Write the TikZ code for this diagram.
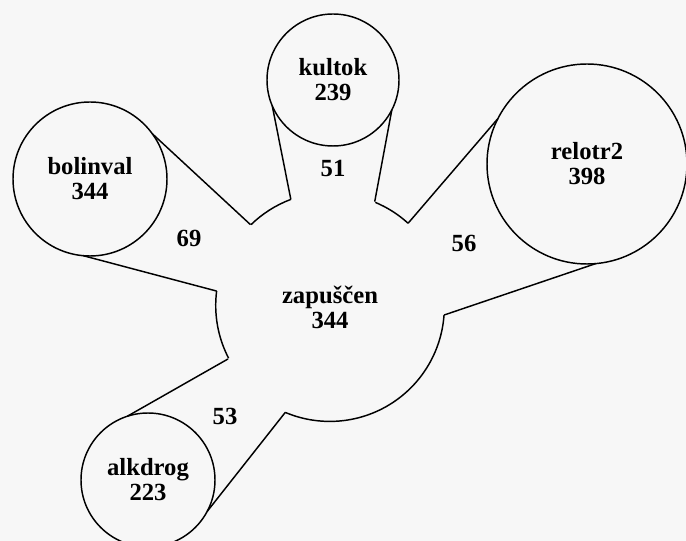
\documentclass[tikz,border=0pt]{standalone}
\usepackage{fontspec}
\setmainfont{Liberation Serif}
\tikzset{every picture/.style={line width=1.1pt}}
\tikzset{
  blob/.style={circle, draw, inner sep=0pt, outer sep=0pt, align=center,
    font=\fontsize{18.5}{18.8}\selectfont\bfseries},
  hub/.style={blob, draw=none},
  weight/.style={inner sep=0pt, font=\fontsize{18.5}{18.8}\selectfont\bfseries}
}

\begin{document}
\begin{tikzpicture}[x=0.75pt,y=0.75pt,yscale=-1,xscale=1]
%Background
\fill [color={rgb, 255:red, 247; green, 247; blue, 247 }] (0,0) rectangle (686,541);
\useasboundingbox (0,0) rectangle (686,541);

%Shape: Circles
\node [hub, minimum size=171.75pt] (zap) at (330,307) {zapuščen\\344};
\node [blob, minimum size=99pt] (kultok) at (333,80) {kultok\\239};
\node [blob, minimum size=115.5pt] (bolinval) at (90,179) {bolinval\\344};
\node [blob, minimum size=150pt] (relotr) at (587,164) {relotr2\\398};
\node [blob, minimum size=100.5pt] (alkdrog) at (148,480) {alkdrog\\223};

%Straight Lines: bridges
\draw (kultok.203.5) -- (zap.110.5) ;
\draw (kultok.333.6) -- (zap.67.2) ;
\draw (bolinval.36.8) -- (zap.134.3) ;
\draw (bolinval.265) -- (zap.172.8) ;
\draw (relotr.153.2) -- (zap.47.7) ;
\draw (relotr.275.4) -- (zap.356) ;
\draw (alkdrog.108.1) -- (zap.207.5) ;
\draw (alkdrog.332.9) -- (zap.247.1) ;

%Shape: Arcs of the hub
\draw (zap.110.5) arc [start angle=-110.5, end angle=-134.3, radius=114.5] ;
\draw (zap.172.8) arc [start angle=-172.8, end angle=-207.5, radius=114.5] ;
\draw (zap.247.1) arc [start angle=-247.1, end angle=-356, radius=114.5] ;
\draw (zap.47.7) arc [start angle=-47.7, end angle=-67.2, radius=114.5] ;

%Weights
\node [weight] (w51) at (333,168) {51};
\node [weight] (w69) at (189,238) {69};
\node [weight] (w56) at (464,243) {56};
\node [weight] (w53) at (225,416) {53};
\end{tikzpicture}
\end{document}
